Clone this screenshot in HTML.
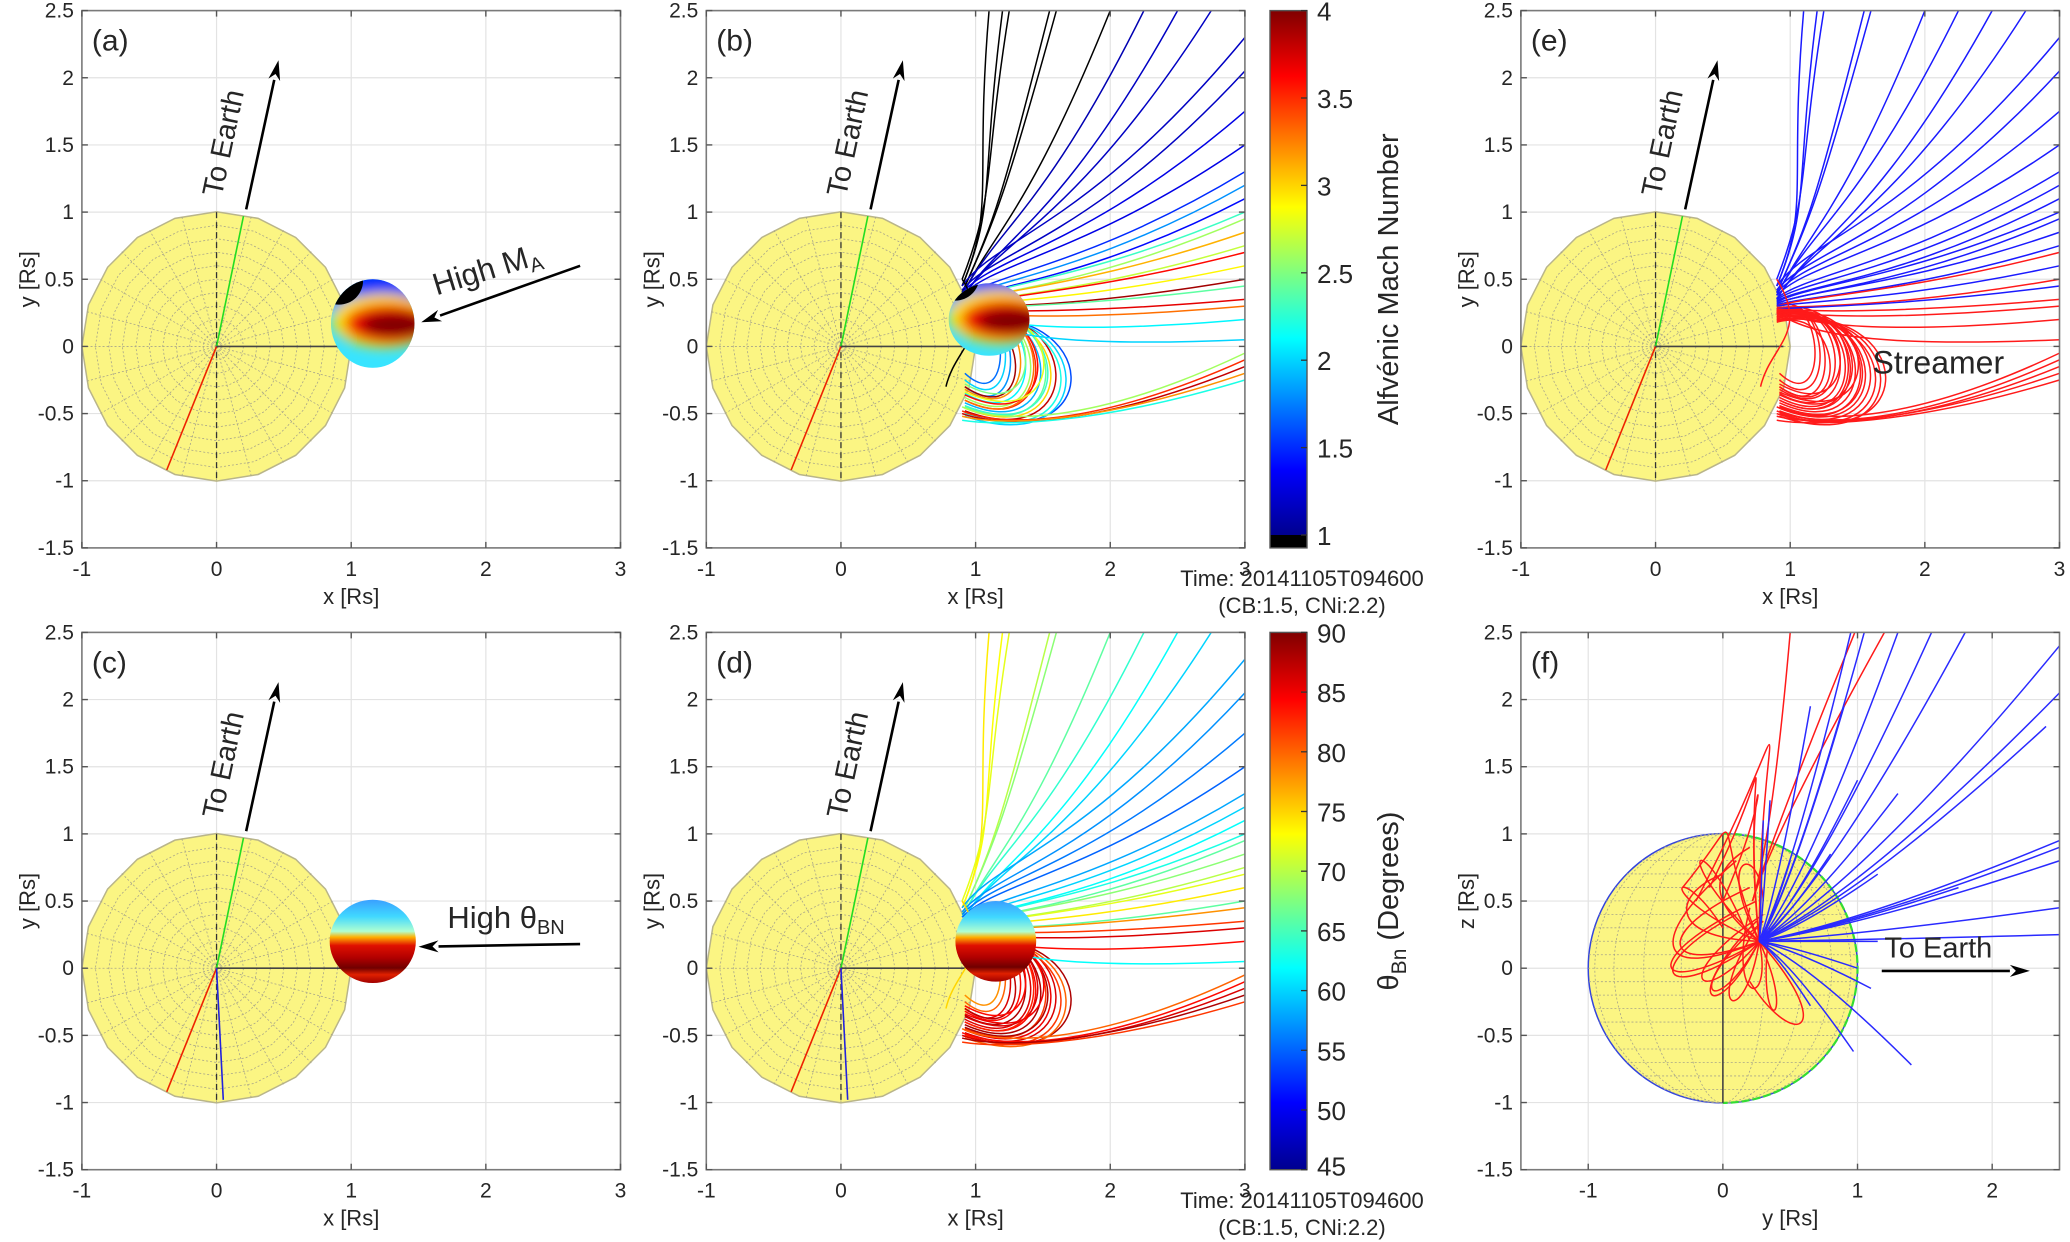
<!DOCTYPE html>
<html><head><meta charset="utf-8"><style>
html,body{margin:0;padding:0;background:#fff}
svg{display:block}
text{font-family:"Liberation Sans",sans-serif;fill:#262626}
</style></head><body>
<svg id="fig" width="2070" height="1242" viewBox="0 0 2070 1242" xmlns="http://www.w3.org/2000/svg">
<defs>
<filter id="blur6" x="-50%" y="-50%" width="200%" height="200%"><feGaussianBlur stdDeviation="6"/></filter>
<linearGradient id="cbJet" x1="0" y1="1" x2="0" y2="0">
<stop offset="0" stop-color="#00008f"/><stop offset="0.125" stop-color="#0000ff"/><stop offset="0.375" stop-color="#00ffff"/><stop offset="0.625" stop-color="#ffff00"/><stop offset="0.875" stop-color="#ff0000"/><stop offset="1" stop-color="#800000"/>
</linearGradient>
<linearGradient id="thetaBlob" x1="0" y1="0" x2="0" y2="1">
<stop offset="0" stop-color="#3aa0ff"/><stop offset="0.2" stop-color="#40d8ff"/><stop offset="0.38" stop-color="#b0ffd0"/><stop offset="0.45" stop-color="#ffb000"/><stop offset="0.55" stop-color="#e01000"/><stop offset="0.7" stop-color="#b00000"/><stop offset="0.82" stop-color="#700000"/><stop offset="0.9" stop-color="#e02000"/><stop offset="1" stop-color="#a00000"/>
</linearGradient>
</defs>
<g id="root"></g>
</svg>
<script>
// ---------- data ----------
const xTicksStd = [-1, 0, 1, 2, 3];
const xTicksF = [-1, 0, 1, 2];
const yTicks = [-1.5, -1, -0.5, 0, 0.5, 1, 1.5, 2, 2.5];
const maTicks = [1, 1.5, 2, 2.5, 3, 3.5, 4];
const thetaTicks = [45, 50, 55, 60, 65, 70, 75, 80, 85, 90];
const openFootY = [0.45,0.45,0.5,0.4,0.4,0.38,0.38,0.35,0.35, 0.45,0.42,0.4,0.38,0.36,0.35,0.34,0.33,0.32,0.32,0.31,0.3,0.3,0.29,0.28,0.28,0.27,0.27,0.26, -0.45,-0.48,-0.5,-0.52,-0.55, 0.5];
const openEndX  = [1.1,1.2,1.25,1.55,1.6,2.0,2.25,2.5,2.75, 3,3,3,3,3,3,3,3,3,3,3,3,3,3,3,3,3,3,3, 3,3,3,3,3, 0.78];
const openEndY  = [2.5,2.5,2.5,2.5,2.5,2.5,2.5,2.5,2.5, 2.3,2.05,1.75,1.5,1.3,1.2,1.1,1.0,0.95,0.85,0.75,0.7,0.6,0.5,0.45,0.35,0.3,0.2,0.05, -0.05,-0.1,-0.15,-0.2,-0.25, -0.3];
const openMidY  = [1.2,1.2,1.3,1.1,1.1,1.0,1.0,0.9,0.9, 0.9,0.8,0.75,0.7,0.6,0.55,0.5,0.5,0.45,0.45,0.4,0.4,0.35,0.3,0.3,0.25,0.2,0.1,0.0, -0.6,-0.62,-0.62,-0.6,-0.6, 0.0];
const openMA    = [0.9,0.9,0.9,0.9,0.9,0.95,1.15,1.2,1.2, 1.2,1.2,1.3,1.3,1.5,1.8,1.4,2.3,2.6,3.1,2.7,3.6,2.9,3.9,2.4,3.7,3.3,2.1,2.0, 2.6,3.5,3.8,3.2,2.2, 0.9];
const openTheta = [74,73,72,70,68,66,64,62,60, 58,57,56,55,58,60,62,63,66,68,70,72,74,66,78,82,86,84,62, 80,84,86,88,82, 75];
const openKind  = [0,0,0,0,0,0,0,0,0, 0,0,0,0,0,0,0,0,0,0,0,1,0,1,0,1,1,1,1, 1,1,1,1,1, 1];
const loopTopY   = [0.28,0.26,0.25,0.24,0.22,0.2,0.3,0.27,0.25,0.23,0.21,0.19,0.18,0.3,0.26,0.24,0.22,0.2,0.28,0.25];
const loopBotY   = [-0.3,-0.35,-0.4,-0.45,-0.48,-0.5,-0.25,-0.32,-0.38,-0.42,-0.46,-0.5,-0.3,-0.2,-0.28,-0.36,-0.44,-0.52,-0.4,-0.34];
const loopReachX = [1.35,1.5,1.6,1.7,1.8,1.95,1.3,1.45,1.55,1.65,1.75,1.85,1.4,1.25,1.5,1.62,1.72,1.9,1.58,1.68];
const loopMA     = [1.8,2.1,3.5,2.4,3.8,1.6,2.0,3.2,2.6,1.9,3.0,2.2,3.9,1.7,2.5,3.6,2.3,2.0,3.3,2.8];
const loopTheta  = [86,88,84,82,86,88,80,84,86,88,85,82,87,78,84,86,88,80,83,85];
const fBlueEndX = [0.95,1.05,1.3,1.55,1.8,2.5,2.5,2.4,0.35,0.65,1.0,1.3,0.5,0.8,1.15,1.75,2.5,2.5,2.5,2.5,2.5,1.15,1.1,0.65,0.97,1.4,1.0,0.3,0.9];
const fBlueEndY = [2.5,2.5,2.5,2.5,2.5,2.4,2.05,1.8,1.25,1.95,1.4,1.3,0.8,0.85,0.7,0.6,0.95,0.9,0.8,0.45,0.25,0.2,-0.15,-0.28,-0.62,-0.72,0.0,1.1,1.95];
const fRedEndX  = [0.2,0.1,0.25,0.0,0.2,0.3,0.25,0.3,0.3,0.35,0.2,0.0,0.2,-0.2,-0.1,0.0,-0.3,0.1,0.25,0.2];
const fRedEndY  = [0.6,0.8,0.5,0.7,0.9,0.4,0.3,0.5,0.35,0.3,-0.1,0.3,0.2,0.5,0.6,0.5,0.6,0.4,0.35,0.45];
const fRedApexX = [-0.5,-0.55,-0.6,-0.4,-0.1,-0.3,0.0,0.1,-0.2,0.4,0.7,-0.45,-0.3,0.45,0.3,0.3,0.05,-0.55,-0.2,0.2];
const fRedApexY = [0.1,0.05,-0.1,0.4,0.7,-0.2,-0.4,0.9,-0.3,-0.5,-0.55,0.7,1.0,2.1,1.75,1.6,1.2,-0.15,-0.35,-0.3];
const fRedOpenX = [0.5,0.98,1.2];
const fRedOpenY = [2.5,2.5,2.5];

// ---------- helpers ----------
const NS = 'http://www.w3.org/2000/svg';
const root = document.getElementById('root');
function mk(tag, attrs, parent){ const e=document.createElementNS(NS,tag); for(const k in attrs) e.setAttribute(k,attrs[k]); (parent||root).appendChild(e); return e; }
function clamp(v){return Math.max(0,Math.min(1,v));}
function jet(t){ t=clamp(t); const r=clamp(1.5-Math.abs(4*t-3)), g=clamp(1.5-Math.abs(4*t-2)), b=clamp(1.5-Math.abs(4*t-1)); return `rgb(${Math.round(r*255)},${Math.round(g*255)},${Math.round(b*255)})`; }
function maColor(v){ return v<1 ? '#000' : jet((v-1)/3); }
function thColor(v){ return jet((v-45)/45); }

const W = 538.6, H = 537.3;
function panel(name, left, top, xmin, xmax, xticks, xlabel, ylabel, letter){
  const g = mk('g', {});
  
  
  const sx = v => left + (v - xmin) / (xmax - xmin) * W;
  const sy = v => top + (2.5 - v) / 4 * H;
  mk('rect', {x:left, y:top, width:W, height:H, fill:'#fff'}, g);
  const grid = mk('g', {stroke:'#e3e3e3', 'stroke-width':1.2}, g);
  
  
  xticks.forEach(t => mk('line', {x1:sx(t), x2:sx(t), y1:top, y2:top+H}, grid));
  yTicks.forEach(t => mk('line', {x1:left, x2:left+W, y1:sy(t), y2:sy(t)}, grid));
  const plot = mk('g', {}, g);
  const axes = mk('g', {}, g);
  
  
  mk('rect', {x:left, y:top, width:W, height:H, fill:'none', stroke:'#7a7a7a', 'stroke-width':1.6}, axes);
  xticks.forEach(t => {
    mk('line', {x1:sx(t), x2:sx(t), y1:top+H, y2:top+H-6, stroke:'#555', 'stroke-width':1.4}, axes);
    mk('line', {x1:sx(t), x2:sx(t), y1:top, y2:top+6, stroke:'#555', 'stroke-width':1.4}, axes);
    const tx = mk('text', {x:sx(t), y:top+H+28, 'font-size':21, 'text-anchor':'middle'}, axes);
    tx.textContent = t;
    
    
  });
  yTicks.forEach(t => {
    mk('line', {x1:left, x2:left+6, y1:sy(t), y2:sy(t), stroke:'#555', 'stroke-width':1.4}, axes);
    mk('line', {x1:left+W, x2:left+W-6, y1:sy(t), y2:sy(t), stroke:'#555', 'stroke-width':1.4}, axes);
    const tx = mk('text', {x:left-8, y:sy(t)+7, 'font-size':21, 'text-anchor':'end'}, axes);
    tx.textContent = t;
    
    
  });
  const xl = mk('text', {x:left+W/2, y:top+H+56, 'font-size':22, 'text-anchor':'middle'}, axes);
  xl.textContent = xlabel;
  
  
  const yl = mk('text', {x:0, y:0, 'font-size':22, 'text-anchor':'middle', transform:`translate(${left-47},${top+H/2}) rotate(-90)`}, axes);
  yl.textContent = ylabel;
  
  
  const lt = mk('text', {x:left+10, y:top+40, 'font-size':30, fill:'#000'}, axes);
  lt.textContent = letter;
  
  
  return {g, plot, sx, sy, left, top};
}

function sunPolar(P, withBlue){
  const g = mk('g', {}, P.plot);
  
  
  const n = 20, cx = P.sx(0), cy = P.sy(0), R = P.sx(1) - P.sx(0);
  let pts = [];
  for(let i=0;i<n;i++){ const a = i/n*2*Math.PI; pts.push((cx+R*Math.cos(a))+','+(cy+R*Math.sin(a))); }
  mk('polygon', {points:pts.join(' '), fill:'#fbf583', stroke:'#b9b58a', 'stroke-width':1.5}, g);
  for(let k=1;k<10;k++){ let p=[]; const r=R*k/10; for(let i=0;i<n;i++){const a=i/n*2*Math.PI; p.push((cx+r*Math.cos(a))+','+(cy+r*Math.sin(a)));} mk('polygon',{points:p.join(' '),fill:'none',stroke:'#a8a58a','stroke-width':0.8,'stroke-dasharray':'2 2'},g); }
  for(let i=0;i<24;i++){ const a=i/24*2*Math.PI; mk('line',{x1:cx,y1:cy,x2:cx+R*Math.cos(a),y2:cy+R*Math.sin(a),stroke:'#a8a58a','stroke-width':0.8,'stroke-dasharray':'2 2'},g); }
  mk('line',{x1:cx,y1:P.sy(1),x2:cx,y2:P.sy(-1),stroke:'#333','stroke-width':1.3,'stroke-dasharray':'6 4'},g);
  mk('line',{x1:cx,y1:cy,x2:P.sx(0.2),y2:P.sy(0.97),stroke:'#22dd22','stroke-width':1.6},g);
  mk('line',{x1:cx,y1:cy,x2:P.sx(-0.37),y2:P.sy(-0.92),stroke:'#ee2200','stroke-width':1.6},g);
  mk('line',{x1:cx,y1:cy,x2:P.sx(0.95),y2:cy,stroke:'#444','stroke-width':1.6},g);
  if(withBlue) mk('line',{x1:cx,y1:cy,x2:P.sx(0.05),y2:P.sy(-0.98),stroke:'#2222dd','stroke-width':1.6},g);
}

function arrowText(P, x1,y1,x2,y2, label, name, tx,ty,rot,size){
  const g = mk('g', {}, P.plot);
  
  
  const X1=P.sx(x1),Y1=P.sy(y1),X2=P.sx(x2),Y2=P.sy(y2);
  const a=Math.atan2(Y2-Y1,X2-X1), L=20, w=6;
  const bx=X2-L*Math.cos(a), by=Y2-L*Math.sin(a);
  mk('line',{x1:X1,y1:Y1,x2:bx,y2:by,stroke:'#000','stroke-width':2.6},g);
  mk('polygon',{points:`${X2},${Y2} ${bx+w*Math.sin(a)},${by-w*Math.cos(a)} ${X2-L*0.7*Math.cos(a)},${Y2-L*0.7*Math.sin(a)} ${bx-w*Math.sin(a)},${by+w*Math.cos(a)}`,fill:'#000'},g);
  const t = mk('text',{x:0,y:0,'font-size':size,fill:'#000','text-anchor':'middle',transform:`translate(${P.sx(tx)},${P.sy(ty)}) rotate(${rot})`},g);
  t.innerHTML = label;
}

function drawBxyLines(P, colorOpen, colorLoop, name){
  const g = mk('g', {fill:'none','stroke-width':1.5}, P.plot);
  
  
  loopTopY.forEach((ty,i)=>{
    const fx=0.9, by=loopBotY[i], rx=loopReachX[i];
    const d=`M${P.sx(fx)},${P.sy(ty)} C${P.sx(rx)},${P.sy(ty+0.15)} ${P.sx(rx+0.05)},${P.sy(by-0.35)} ${P.sx(fx+0.02)},${P.sy(by)}`;
    const p = mk('path',{d,stroke:colorLoop(i)},g);
    
    
  });
  openFootY.forEach((fy,i)=>{
    const fx=0.9, ex=openEndX[i], ey=openEndY[i], my=openMidY[i];
    const mx = fx + 0.45*(ex-fx);
    const d=`M${P.sx(fx)},${P.sy(fy)} C${P.sx(fx+0.25)},${P.sy(fy+(my-fy)*0.8)} ${P.sx(mx)},${P.sy(my)} ${P.sx(ex)},${P.sy(ey)}`;
    const p = mk('path',{d,stroke:colorOpen(i)},g);
    
    
  });
}

function blobMA(P, cx, cy, rx, ry, id){
  const g = mk('g', {}, P.plot);
  
  
  const cp = mk('clipPath',{id}, g);
  mk('ellipse',{cx:P.sx(cx),cy:P.sy(cy),rx:P.sx(rx)-P.sx(0),ry:P.sy(0)-P.sy(ry)},cp);
  const inner = mk('g',{'clip-path':`url(#${id})`},g);
  mk('rect',{x:P.sx(cx-rx),y:P.sy(cy+ry),width:2*(P.sx(rx)-P.sx(0)),height:2*(P.sy(0)-P.sy(ry)),fill:'#38e4ff'},inner);
  const bl = mk('g',{filter:'url(#blur6)'},inner);
  mk('ellipse',{cx:P.sx(cx-0.08),cy:P.sy(cy+0.3),rx:65,ry:26,fill:'#0030ff'},bl);
  mk('ellipse',{cx:P.sx(cx-0.2),cy:P.sy(cy+0.1),rx:14,ry:30,fill:'#0090ff'},bl);
  mk('ellipse',{cx:P.sx(cx+0.08),cy:P.sy(cy+0.02),rx:52,ry:27,fill:'#ffe000'},bl);
  mk('ellipse',{cx:P.sx(cx+0.12),cy:P.sy(cy+0.0),rx:44,ry:20,fill:'#f01000'},bl);
  mk('ellipse',{cx:P.sx(cx+0.17),cy:P.sy(cy-0.01),rx:34,ry:12,fill:'#800000'},bl);
  mk('ellipse',{cx:P.sx(cx-0.25),cy:P.sy(cy+0.32),rx:24,ry:24,fill:'#000'},inner);
}
function blobTheta(P, cx, cy, rx, ry){
  const g = mk('g', {}, P.plot);
  
  
  mk('ellipse',{cx:P.sx(cx),cy:P.sy(cy),rx:P.sx(rx)-P.sx(0),ry:P.sy(0)-P.sy(ry),fill:'url(#thetaBlob)'},g);
}

function colorbar(left, top, h, ticks, vmin, vmax, label, name, blackBelow){
  const g = mk('g', {});
  
  
  const w = 37;
  const sy = v => top + (vmax - v)/(vmax - vmin) * (blackBelow ? 524.4 : h);
  if(blackBelow){
    mk('rect',{x:left,y:top,width:w,height:sy(1)-top,fill:'url(#cbJet)'},g);
    mk('rect',{x:left,y:sy(1),width:w,height:top+h-sy(1),fill:'#000'},g);
  } else {
    mk('rect',{x:left,y:top,width:w,height:h,fill:'url(#cbJet)'},g);
  }
  mk('rect',{x:left,y:top,width:w,height:h,fill:'none',stroke:'#555','stroke-width':1.4},g);
  ticks.forEach(t=>{
    mk('line',{x1:left+w-6,x2:left+w,y1:sy(t),y2:sy(t),stroke:'#333','stroke-width':1.3},g);
    const tx = mk('text',{x:left+w+10,y:Math.min(sy(t)+10,top+h+6),'font-size':26},g);
    tx.textContent = t;
    
    
  });
  const lb = mk('text',{x:0,y:0,'font-size':29,'text-anchor':'middle',transform:`translate(${left+w+91},${top+h/2}) rotate(-90)`},g);
  lb.innerHTML = label;
  
  
}
function timeText(cx, y){
  const g = mk('g', {});
  
  
  const a = mk('text',{x:cx,y:y,'font-size':22,'text-anchor':'middle'},g); a.textContent='Time: 20141105T094600';
  const b = mk('text',{x:cx,y:y+27,'font-size':22,'text-anchor':'middle'},g); b.textContent='(CB:1.5, CNi:2.2)';
}

// ---------- panels ----------
const colL = [81.9, 706.3, 1520.9], rowT = [10.6, 632.4];
const lbl = 'y [Rs]';
const A = panel('panel-a', colL[0], rowT[0], -1, 3, xTicksStd, 'x [Rs]', lbl, '(a)');
sunPolar(A, false);
blobMA(A, 1.16, 0.17, 0.31, 0.33, 'clipA');
arrowText(A, 0.22, 1.02, 0.46, 2.13, 'To Earth', 'to-earth-arrow', 0.12, 1.5, -78, 29);
arrowText(A, 2.7, 0.6, 1.52, 0.18, 'High M<tspan font-size="20" dy="6">A</tspan>', 'high-ma-annotation', 2.03, 0.5, -17, 31);

const B = panel('panel-b', colL[1], rowT[0], -1, 3, xTicksStd, 'x [Rs]', lbl, '(b)');
sunPolar(B, false);
drawBxyLines(B, i=>maColor(openMA[i]), i=>maColor(loopMA[i]), 'field-lines-mach');
blobMA(B, 1.1, 0.2, 0.3, 0.27, 'clipB');
arrowText(B, 0.22, 1.02, 0.46, 2.13, 'To Earth', 'to-earth-arrow', 0.12, 1.5, -78, 29);
colorbar(1270, rowT[0], H, maTicks, 1, 4, 'Alfvénic Mach Number', 'colorbar-mach', true);
timeText(1302, 586);

const E = panel('panel-e', colL[2], rowT[0], -1, 3, xTicksStd, 'x [Rs]', lbl, '(e)');
sunPolar(E, false);
drawBxyLines(E, i=>openKind[i]===0?'#1a1aff':'#ff1a1a', i=>'#ff1a1a', 'field-lines-streamer');
arrowText(E, 0.22, 1.02, 0.46, 2.13, 'To Earth', 'to-earth-arrow', 0.12, 1.5, -78, 29);
{ const t = mk('text',{x:E.sx(2.1),y:E.sy(-0.2),'font-size':32,'text-anchor':'middle',fill:'#000'},E.plot); t.textContent='Streamer';
    }

const C = panel('panel-c', colL[0], rowT[1], -1, 3, xTicksStd, 'x [Rs]', lbl, '(c)');
sunPolar(C, true);
blobTheta(C, 1.16, 0.2, 0.32, 0.31);
arrowText(C, 0.22, 1.02, 0.46, 2.13, 'To Earth', 'to-earth-arrow', 0.12, 1.5, -78, 29);
arrowText(C, 2.7, 0.18, 1.5, 0.16, 'High θ<tspan font-size="20" dy="6">BN</tspan>', 'high-theta-annotation', 2.15, 0.3, 0, 31);

const D = panel('panel-d', colL[1], rowT[1], -1, 3, xTicksStd, 'x [Rs]', lbl, '(d)');
sunPolar(D, true);
drawBxyLines(D, i=>thColor(openTheta[i]), i=>thColor(loopTheta[i]), 'field-lines-theta');
blobTheta(D, 1.15, 0.2, 0.3, 0.3);
arrowText(D, 0.22, 1.02, 0.46, 2.13, 'To Earth', 'to-earth-arrow', 0.12, 1.5, -78, 29);
colorbar(1270, rowT[1], H, thetaTicks, 45, 90, 'θ<tspan font-size="21" dy="8">Bn</tspan><tspan dy="-8"> (Degrees)</tspan>', 'colorbar-theta', false);
timeText(1302, 1208);

const F = panel('panel-f', colL[2], rowT[1], -1.5, 2.5, xTicksF, 'y [Rs]', 'z [Rs]', '(f)');
{
  const g = mk('g', {}, F.plot);
  
  
  const cx=F.sx(0), cy=F.sy(0), R=F.sx(1)-F.sx(0);
  mk('circle',{cx,cy,r:R,fill:'#fbf583',stroke:'#3344dd','stroke-width':1.5},g);
  for(let k=-9;k<=9;k++){ const y=k/10; const hw=Math.sqrt(1-y*y)*R; mk('line',{x1:cx-hw,x2:cx+hw,y1:cy-y*R,y2:cy-y*R,stroke:'#a8a58a','stroke-width':0.8,'stroke-dasharray':'2 2'},g); }
  for(let k=1;k<=4;k++){ const rx=R*Math.sin(k/5*Math.PI/2); mk('ellipse',{cx,cy,rx,ry:R,fill:'none',stroke:'#a8a58a','stroke-width':0.8,'stroke-dasharray':'2 2'},g); }
  mk('path',{d:`M${cx},${cy-R} A${R},${R} 0 0 1 ${cx},${cy+R}`,fill:'none',stroke:'#33dd33','stroke-width':2.2,'stroke-dasharray':'8 3'},g);
  mk('line',{x1:cx,y1:cy-R,x2:cx,y2:cy+R,stroke:'#444','stroke-width':1.6},g);
  const lg = mk('g',{fill:'none','stroke-width':1.5},F.plot);
  
  
  const fx=0.27, fy=0.2;
  fRedEndX.forEach((ex,i)=>{
    const ey=fRedEndY[i], ax=fRedApexX[i], ay=fRedApexY[i];
    const dx=ax-fx, dy=ay-fy, L=Math.hypot(dx,dy)||1;
    const px=-dy/L*0.18, py=dx/L*0.18;
    const d=`M${F.sx(fx)},${F.sy(fy)} C${F.sx(ax+px)},${F.sy(ay+py)} ${F.sx(ax-px)},${F.sy(ay-py)} ${F.sx(ex)},${F.sy(ey)}`;
    const p=mk('path',{d,stroke:'#ff1a1a'},lg);
     
  });
  fRedOpenX.forEach((ex,i)=>{
    const ey=fRedOpenY[i];
    const p=mk('path',{d:`M${F.sx(fx-0.05)},${F.sy(fy+0.3)} Q${F.sx(fx+0.1)},${F.sy(1.0)} ${F.sx(ex)},${F.sy(ey)}`,stroke:'#ff1a1a'},lg);
     
  });
  fBlueEndX.forEach((ex,i)=>{
    const ey=fBlueEndY[i];
    const p=mk('path',{d:`M${F.sx(fx)},${F.sy(fy)} Q${F.sx(fx+(ex-fx)*0.35)},${F.sy(fy+(ey-fy)*0.2)} ${F.sx(ex)},${F.sy(ey)}`,stroke:'#2a2aff'},lg);
     
  });
  arrowText(F, 1.18, -0.02, 2.28, -0.02, 'To Earth', 'to-earth-arrow', 1.6, 0.08, 0, 29);
}
</script>
</body></html>
